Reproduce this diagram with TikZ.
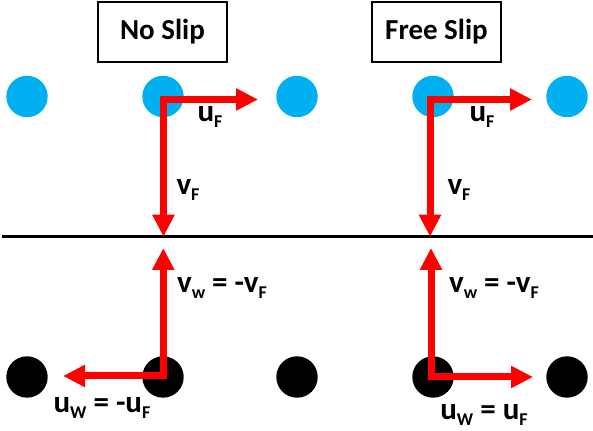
\documentclass[tikz,border=0pt]{standalone}
\usepackage{fontspec}
\setmainfont{Carlito}
\usetikzlibrary{arrows.meta, positioning}
\definecolor{fluidblue}{RGB}{0,176,240}
\newcommand{\lsub}[1]{\raisebox{-3pt}{\fontsize{9}{10}\selectfont #1}}

\begin{document}
\begin{tikzpicture}[
    x=0.5pt, y=-0.5pt,
    font=\fontsize{15.5}{18}\selectfont\bfseries,
    % Define styles
    title/.style={
        rectangle,
        draw=black,
        line width=1pt,
        minimum width=64.5pt,
        minimum height=30pt,
        font=\fontsize{14.5}{17}\selectfont\bfseries
    },
    fluid/.style={
        circle,
        fill=fluidblue,
        minimum size=20.7pt,
        inner sep=0pt
    },
    ghost/.style={
        circle,
        fill=black,
        minimum size=20.7pt,
        inner sep=0pt
    },
    vel/.style={
        draw=red,
        line width=3.5pt,
        line cap=rect,
        -{Triangle[length=11pt,width=10.5pt]}
    },
    wall/.style={
        draw=black,
        line width=1.7pt
    }
]
\useasboundingbox (0,0) rectangle (593,431);

% Titles
\node[title] (noslip) at (162.5,32) {No Slip};
\node[title] (freeslip) at (436.5,32) {Free Slip};

% Fluid row
\foreach \i/\x in {1/27, 2/163, 3/297, 4/433, 5/567}
    \node[fluid] (f\i) at (\x,96.5) {};

% Ghost row
\foreach \i/\x in {1/27, 2/163, 3/297, 4/433, 5/567}
    \node[ghost] (g\i) at (\x,377) {};

% Wall
\coordinate (wl) at (2,236.7);
\coordinate (wr) at (593,236.7);
\path[wall] (wl) -- (wr);

% Corners and tips
\coordinate (cnsF) at (163.5,99.5);
\coordinate (cnsW) at (163.3,376);
\coordinate (cfsF) at (430,99.5);
\coordinate (cfsW) at (431,377);
\coordinate (tnsu) at (258,99.5);
\coordinate (tnsv) at (163.5,236.7);
\coordinate (tnsvw) at (163.3,248);
\coordinate (tnsuw) at (63,376);
\coordinate (tfsu) at (532,99.5);
\coordinate (tfsv) at (430,236.7);
\coordinate (tfsvw) at (431,248);
\coordinate (tfsuw) at (533,377);

% No slip velocities
\path[vel] (cnsF) -- (tnsu);
\path[vel] (cnsF) -- (tnsv);
\path[vel] (cnsW) -- (tnsvw);
\path[vel] (cnsW) -- (tnsuw);

% Free slip velocities
\path[vel] (cfsF) -- (tfsu);
\path[vel] (cfsF) -- (tfsv);
\path[vel] (cfsW) -- (tfsvw);
\path[vel] (cfsW) -- (tfsuw);

% Labels
\node (luns) at (210,117) {u\lsub{F}};
\node (lvns) at (188,190) {v\lsub{F}};
\node (lvwns) at (222,288) {v\lsub{w} = -v\lsub{F}};
\node (luwns) at (102,408) {u\lsub{W} = -u\lsub{F}};
\node (lufs) at (482,117) {u\lsub{F}};
\node (lvfs) at (459,190) {v\lsub{F}};
\node (lvwfs) at (494,288) {v\lsub{w} = -v\lsub{F}};
\node (luwfs) at (484,415) {u\lsub{W} = u\lsub{F}};

\end{tikzpicture}
\end{document}
